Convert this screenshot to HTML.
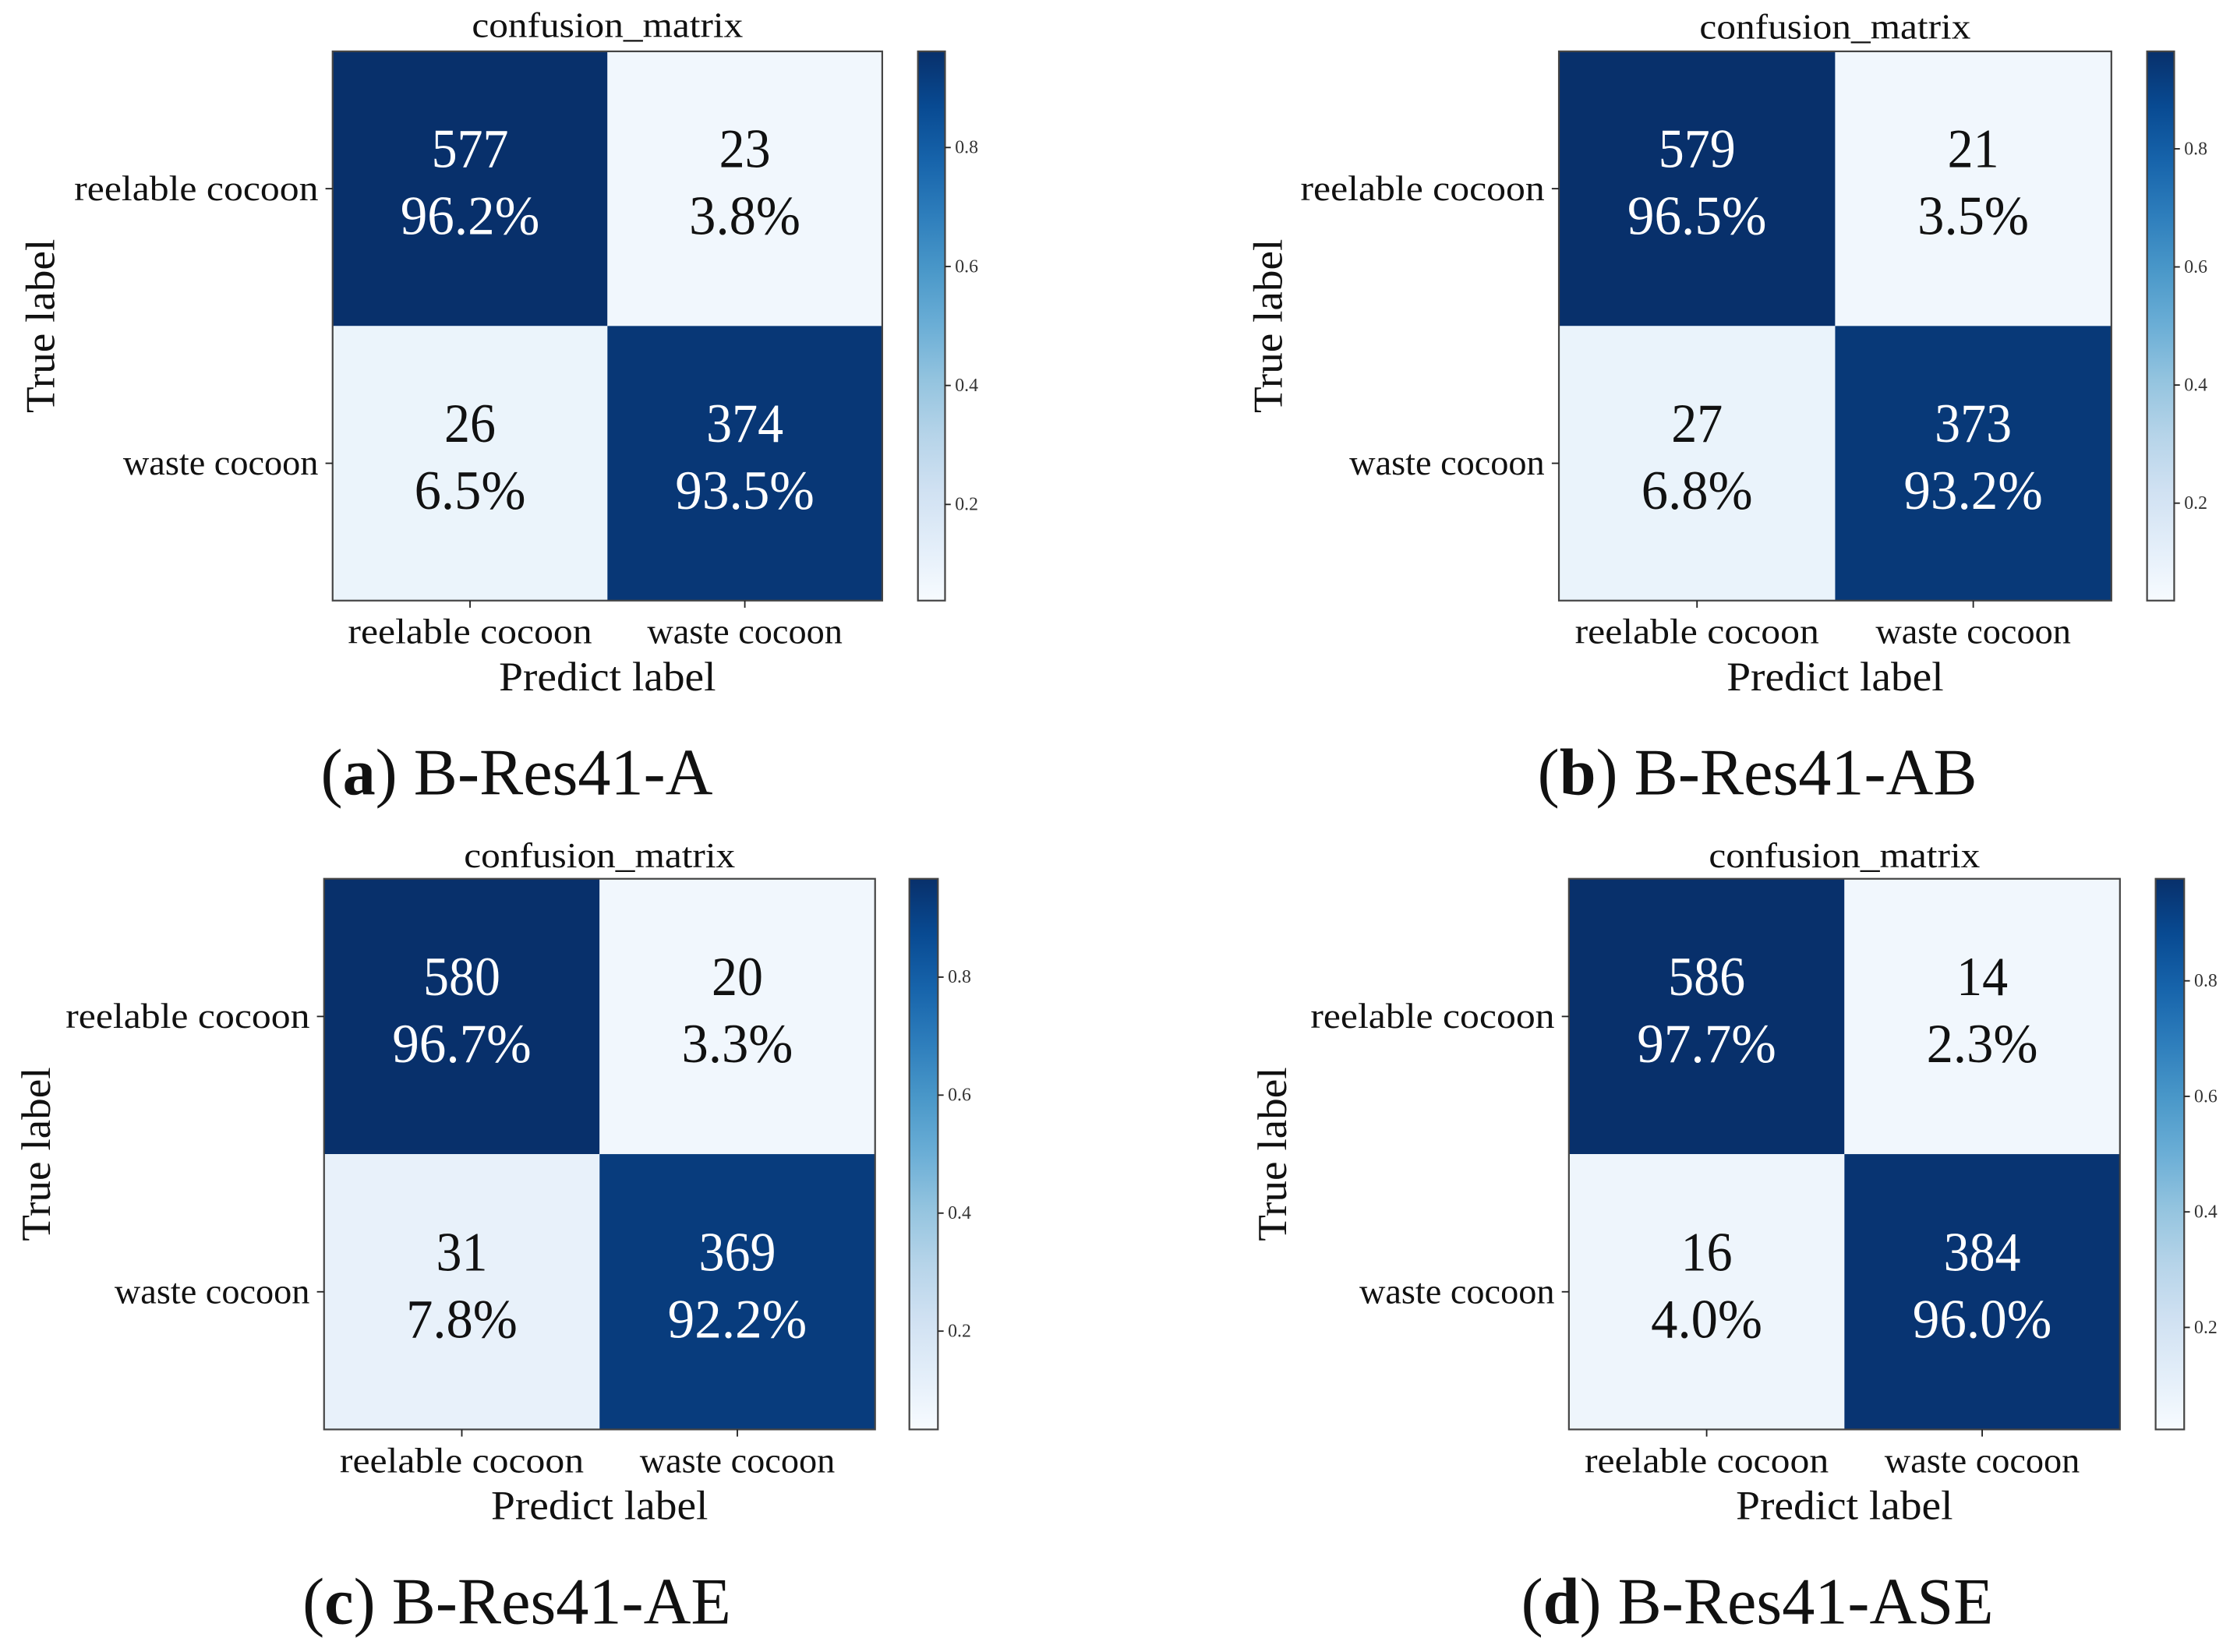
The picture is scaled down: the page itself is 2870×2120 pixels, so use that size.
<!DOCTYPE html>
<html><head><meta charset="utf-8"><style>
html,body{margin:0;padding:0;background:#fff;}
svg{display:block;font-family:"Liberation Serif",serif;}
</style></head><body>
<svg id="fig" width="2870" height="2120" viewBox="0 0 1567 1158" preserveAspectRatio="none" xmlns="http://www.w3.org/2000/svg"></svg>
<script>
const classes = ["reelable cocoon", "waste cocoon"];
const panelIds = ["a", "b", "c", "d"];
const panelNames = ["B-Res41-A", "B-Res41-AB", "B-Res41-AE", "B-Res41-ASE"];
const countsA = [[577, 23], [26, 374]];
const countsB = [[579, 21], [27, 373]];
const countsC = [[580, 20], [31, 369]];
const countsD = [[586, 14], [16, 384]];
const cbTicks = [0.2, 0.4, 0.6, 0.8];
const cbTickLabels = ["0.2", "0.4", "0.6", "0.8"];
const allCounts = [countsA, countsB, countsC, countsD];

const layouts = [
  {px:233, py:36, pw:385, ph:385, cbx:643, cby:36, cbw:19, title:18, cap:362, capy:557, tl:28},
  {px:1092, py:36, pw:387, ph:385, cbx:1504, cby:36, cbw:19, title:19, cap:1231, capy:557, tl:888},
  {px:227, py:616, pw:386, ph:386, cbx:637, cby:616, cbw:20, title:600, cap:362, capy:1138, tl:25},
  {px:1099, py:616, pw:386, ph:386, cbx:1510, cby:616, cbw:20, title:600, cap:1231, capy:1138, tl:891}
];
const stops = [[247,251,255],[222,235,247],[198,219,239],[158,202,225],[107,174,214],[66,146,198],[33,113,181],[8,81,156],[8,48,107]];
function blues(t){t=Math.max(0,Math.min(1,t));const s=t*(stops.length-1);const i=Math.min(stops.length-2,Math.floor(s));const f=s-i;
 const c=stops[i].map((v,k)=>Math.round(v+(stops[i+1][k]-v)*f));return `rgb(${c[0]},${c[1]},${c[2]})`;}
function pctLabel(f){const v=f*1000;let r=Math.round(v);if(Math.abs(v-Math.floor(v)-0.5)<1e-6){const fl=Math.floor(v);r=(fl%2===0)?fl:fl+1;}return (r/10).toFixed(1)+'%';}
const NS="http://www.w3.org/2000/svg";
const svg=document.getElementById('fig');
function el(tag,attrs,parent,text){const e=document.createElementNS(NS,tag);for(const k in attrs)e.setAttribute(k,attrs[k]);if(text!==undefined)e.textContent=text;(parent||svg).appendChild(e);return e;}
const defs=el('defs',{});
const grad=el('linearGradient',{id:'cbg',x1:0,y1:1,x2:0,y2:0},defs);
for(let i=0;i<=10;i++){el('stop',{offset:(i/10),'stop-color':blues(i/10)},grad);}

layouts.forEach((L,p)=>{
  const counts=allCounts[p];
  const g=el('g',{});
  
  
  const n=classes.length;
  const cw=L.pw/n, ch=L.ph/n;
  const rowSums=counts.map(r=>r.reduce((a,b)=>a+b,0));
  const fracs=counts.map((r,i)=>r.map(v=>v/rowSums[i]));
  let vmin=Infinity,vmax=-Infinity;fracs.forEach(r=>r.forEach(v=>{vmin=Math.min(vmin,v);vmax=Math.max(vmax,v);}));
  const xS=j=>L.px+j*cw, yS=i=>L.py+i*ch;
  const t=el('text',{x:L.px+L.pw/2,y:L.title+8,'text-anchor':'middle','font-size':25,fill:'#111',textLength:190,lengthAdjust:'spacingAndGlyphs'},g,'confusion_matrix');
  
  
  for(let i=0;i<n;i++)for(let j=0;j<n;j++){
    const f=fracs[i][j];const tt=(f-vmin)/(vmax-vmin);
    const r=el('rect',{x:xS(j),y:yS(i),width:cw,height:ch,fill:blues(0.03+tt*0.97)},g);
    
    
    const col=tt>0.5?'#fff':'#111';
    const cx=xS(j)+cw/2, cy=yS(i)+ch/2;
    const a=el('text',{x:cx,y:cy-15,'text-anchor':'middle','font-size':39,fill:col,textLength:String(counts[i][j]).length*18,lengthAdjust:'spacingAndGlyphs'},g,String(counts[i][j]));
    
    
    const pct=pctLabel(f);
    const b=el('text',{x:cx,y:cy+32,'text-anchor':'middle','font-size':39,fill:col,textLength:pct.length*19.5,lengthAdjust:'spacingAndGlyphs'},g,pct);
    
    
  }
  const fr=el('rect',{x:L.px,y:L.py,width:L.pw,height:L.ph,fill:'none',stroke:'#444','stroke-width':1.2},g);
  
  
  classes.forEach((c,i)=>{
    const y=yS(i)+ch/2;
    el('line',{x1:L.px-5,x2:L.px,y1:y,y2:y,stroke:'#222','stroke-width':1},g);
    const yl=el('text',{x:L.px-10,y:y+8,'text-anchor':'end','font-size':25,fill:'#111',textLength:c.length*11.4,lengthAdjust:'spacingAndGlyphs'},g,c);
    
    
    const x=xS(i)+cw/2;
    el('line',{x1:x,x2:x,y1:L.py+L.ph,y2:L.py+L.ph+5,stroke:'#222','stroke-width':1},g);
    const xl=el('text',{x:x,y:L.py+L.ph+30,'text-anchor':'middle','font-size':25,fill:'#111',textLength:c.length*11.4,lengthAdjust:'spacingAndGlyphs'},g,c);
    
    
  });
  const ylab=el('text',{x:0,y:0,'text-anchor':'middle','font-size':29,fill:'#111',transform:`translate(${L.tl+10},${L.py+L.ph/2}) rotate(-90)`,textLength:122,lengthAdjust:'spacingAndGlyphs'},g,'True label');
  
  
  const xlab=el('text',{x:L.px+L.pw/2,y:L.py+L.ph+63,'text-anchor':'middle','font-size':29,fill:'#111',textLength:152,lengthAdjust:'spacingAndGlyphs'},g,'Predict label');
  
  
  const cbg=el('g',{},g);
  
  
  el('rect',{x:L.cbx,y:L.cby,width:L.cbw,height:L.ph,fill:'url(#cbg)',stroke:'#444','stroke-width':1.2},cbg);
  const cbY=v=>L.cby+L.ph-(v-vmin)/(vmax-vmin)*L.ph;
  cbTicks.forEach((v,k)=>{
    const y=cbY(v);
    el('line',{x1:L.cbx+L.cbw,x2:L.cbx+L.cbw+4,y1:y,y2:y,stroke:'#222','stroke-width':1},cbg);
    const tl=el('text',{x:L.cbx+L.cbw+7,y:y+4,'font-size':13,fill:'#333'},cbg,cbTickLabels[k]);
    
    
  });
  const cap=el('text',{x:L.cap,y:L.capy,'text-anchor':'middle','font-size':46,fill:'#111'},g);
  
  
  el('tspan',{},cap,'(');
  el('tspan',{'font-weight':'bold'},cap,panelIds[p]);
  el('tspan',{},cap,') '+panelNames[p]);
});
</script>
</body></html>
